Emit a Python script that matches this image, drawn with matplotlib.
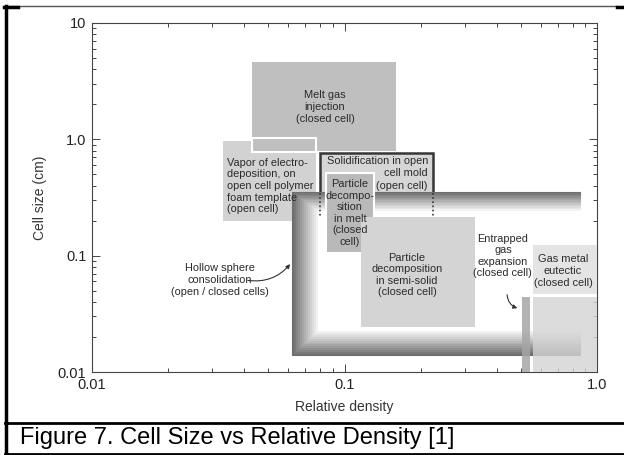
import matplotlib
matplotlib.use('Agg')
import matplotlib.pyplot as plt
from matplotlib.patches import Rectangle
from matplotlib.lines import Line2D
import numpy as np

plt.rcParams['font.family'] = ['Liberation Sans', 'DejaVu Sans']

# process regions: (x0, x1, y0, y1) in relative density / cell size (cm)
melt_gas = (0.043, 0.16, 0.79, 4.6)
melt_gas_notch = (0.043, 0.077, 0.78, 1.03)
vapor = (0.033, 0.077, 0.2, 0.97)
solidification = (0.08, 0.224, 0.22, 0.76)
particle_melt = (0.0845, 0.131, 0.105, 0.515)
semi_solid = (0.116, 0.33, 0.0244, 0.215)
entrapped = (0.505, 0.543, 0.01, 0.044)
eutectic = (0.558, 1.0, 0.01, 0.044)
eutectic_label_bg = (0.558, 1.0, 0.047, 0.1235)

# hollow sphere band: outer and inner edges (left, bottom, top), shared right end
hollow_outer = (0.0625, 0.014, 0.346)
hollow_inner = (0.0776, 0.0221, 0.247)
hollow_right = 0.856

labels = [
    ('Melt gas\ninjection\n(closed cell)', 0.0837, 1.9, 'center'),
    ('Vapor of electro-\ndeposition, on\nopen cell polymer\nfoam template\n(open cell)', 0.0342, 0.397, 'left'),
    ('Particle\ndecompo-\nsition\nin melt\n(closed\ncell)', 0.1052, 0.2326, 'center'),
    ('Particle\ndecomposition\nin semi-solid\n(closed cell)', 0.1768, 0.0682, 'center'),
    ('Hollow sphere\nconsolidation\n(open / closed cells)', 0.0321, 0.0618, 'center'),
    ('Entrapped\ngas\nexpansion\n(closed cell)', 0.424, 0.0993, 'center'),
    ('Gas metal\neutectic\n(closed cell)', 0.733, 0.0738, 'center'),
]
solid_lines = ['Solidification in open', 'cell mold', '(open cell)']
solid_label_xy = (0.214, 0.5135)

W, H = 624, 455
fig = plt.figure(figsize=(W / 100, H / 100), dpi=100)
ax = fig.add_axes([92 / W, 1 - 372 / H, (597 - 92) / W, (372 - 23) / H])
ax.set_xscale('log')
ax.set_yscale('log')
ax.set_xlim(0.01, 1.0)
ax.set_ylim(0.01, 10)


def box(r, fc, ec='none', lw=0, z=1, alpha=1.0, fill=True):
    x0, x1, y0, y1 = r
    ax.add_patch(Rectangle((x0, y0), x1 - x0, y1 - y0, facecolor=fc if fill else 'none',
                           edgecolor=ec, linewidth=lw, zorder=z, alpha=alpha, fill=fill))


box(vapor, '#d2d2d2', z=1)
box(melt_gas, '#bfbfbf', z=2)
box(melt_gas_notch, 'none', ec='white', lw=1.5, z=3, fill=False)

# solidification box: solid outline above the hollow sphere band, dotted behind it
sx0, sx1, sy0, sy1 = solidification
band_top = hollow_outer[2]
box((sx0, sx1, band_top, sy1), '#d6d6d6', z=2)
ax.plot([sx0, sx0, sx1, sx1], [band_top, sy1, sy1, band_top], color='#363636',
        lw=1.8, solid_joinstyle='miter', zorder=2.5)
ax.plot([sx0, sx0], [band_top, sy0], color='#363636', lw=1.2, ls=(0, (1, 1.5)), zorder=4.5)
ax.plot([sx1, sx1], [band_top, sy0], color='#363636', lw=1.2, ls=(0, (1, 1.5)), zorder=4.5)

# hollow sphere consolidation: graded band, dark outside to light inside
n = 13
lefts = np.geomspace(hollow_outer[0], hollow_inner[0], n)
bots = np.geomspace(hollow_outer[1], hollow_inner[1], n)
tops = np.geomspace(hollow_outer[2], hollow_inner[2], n)
greys = np.linspace(0.43, 0.95, n)
for l, b, t, g in zip(lefts, bots, tops, greys):
    ax.plot([hollow_right, l, l, hollow_right], [t, t, b, b], color=str(g),
            lw=1.5, solid_joinstyle='miter', zorder=4)

box(particle_melt, '#b9b9b9', ec='white', lw=1.5, z=5)
box(semi_solid, '#d4d4d4', z=5)
box(eutectic_label_bg, '#e4e4e4', z=3)
box(eutectic, '#d4d4d4', z=5, alpha=0.8)
box(entrapped, '#a6a6a6', z=6, alpha=0.85)

fs = 7.9
for txt, x, y, ha in labels:
    ax.text(x, y, txt, ha=ha, va='center', fontsize=fs, color='#2b2b2b',
            linespacing=1.2, zorder=10)
for i, line in enumerate(solid_lines):
    ax.annotate(line, xy=solid_label_xy, xytext=(0, 9 * (1 - i)), textcoords='offset points',
                ha='right', va='center', fontsize=fs, color='#2b2b2b', zorder=10)

ax.annotate('', xy=(0.4955, 0.0348), xytext=(0.44, 0.0487),
            arrowprops=dict(arrowstyle='-|>', connectionstyle='arc3,rad=0.4',
                            color='#333333', lw=0.8, mutation_scale=6), zorder=10)
ax.annotate('', xy=(0.0619, 0.0882), xytext=(0.0404, 0.0618),
            arrowprops=dict(arrowstyle='-|>', connectionstyle='arc3,rad=0.3',
                            color='#333333', lw=0.8, mutation_scale=6), zorder=10)

ax.set_xticks([0.01, 0.1, 1.0])
ax.set_xticklabels(['0.01', '0.1', '1.0'])
ax.set_yticks([0.01, 0.1, 1.0, 10])
ax.set_yticklabels(['0.01', '0.1', '1.0', '10'])
ax.tick_params(which='both', direction='in', top=True, right=True,
               color='#444444', width=0.7, labelsize=10.5, labelcolor='#222222', pad=4)
ax.tick_params(which='major', length=6)
ax.tick_params(which='minor', length=3)
for s in ax.spines.values():
    s.set_color('#444444')
    s.set_linewidth(0.8)

ax.set_xlabel('Relative density', fontsize=10, color='#333333', labelpad=6)
ax.set_ylabel('Cell size (cm)', fontsize=10, color='#333333', labelpad=8)


def fline(x0, y0, x1, y1, lw, c):
    fig.add_artist(Line2D([x0 / W, x1 / W], [1 - y0 / H, 1 - y1 / H],
                          transform=fig.transFigure, color=c, lw=lw))


fline(5, 6, 617, 6, 1.0, '#555555')
fline(617, 6.5, 624, 6.5, 2.5, 'black')
fline(4, 6.5, 18, 6.5, 2.5, 'black')
fline(5.5, 6, 5.5, 455, 2.5, 'black')
fline(5, 423, 624, 423, 2.0, 'black')
fline(5, 454, 624, 454, 2.0, 'black')

fig.text(20 / W, 1 - 438 / H, 'Figure 7. Cell Size vs Relative Density [1]',
         fontsize=17, va='center', ha='left', color='black')

fig.savefig('out.png', dpi=100)
